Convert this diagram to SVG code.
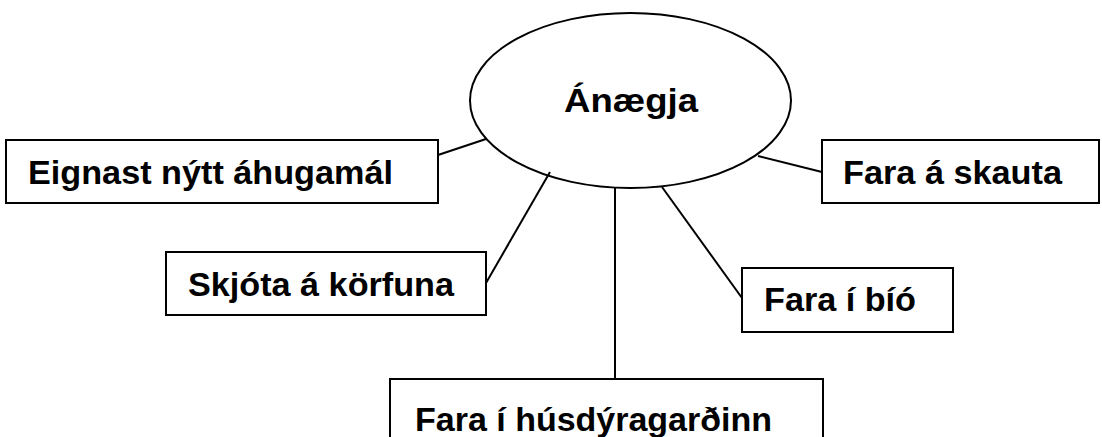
<svg xmlns="http://www.w3.org/2000/svg" width="1102" height="437" viewBox="0 0 1102 437">
<style>
.box{fill:#fff;stroke:#000;stroke-width:2}
.lbl{font-family:"Liberation Sans",Arial,sans-serif;font-weight:bold;font-size:34px;fill:#000}
.con line{stroke:#000;stroke-width:2}
</style>
<rect width="1102" height="437" fill="#fff"/>
<g id="connectors" class="con">
<line x1="438" y1="155" x2="486" y2="139"/>
<line x1="758" y1="156" x2="822" y2="172"/>
<line x1="486" y1="283" x2="550" y2="172"/>
<line x1="615" y1="187" x2="615" y2="379"/>
<line x1="662" y1="187" x2="742" y2="298"/>
</g>
<g id="n-anaegja">
<ellipse cx="630.5" cy="100.5" rx="160.5" ry="87.5" fill="none" stroke="#000" stroke-width="2"/>
<text class="lbl" x="564" y="112" font-size="36" textLength="134" lengthAdjust="spacingAndGlyphs">Ánægja</text>
</g>
<g id="n-eignast">
<rect class="box" x="6" y="140" width="432" height="63"/>
<text class="lbl" x="28" y="184" textLength="365" lengthAdjust="spacingAndGlyphs">Eignast nýtt áhugamál</text>
</g>
<g id="n-skauta">
<rect class="box" x="822" y="140" width="277" height="63"/>
<text class="lbl" x="843" y="184" textLength="219" lengthAdjust="spacingAndGlyphs">Fara á skauta</text>
</g>
<g id="n-korfuna">
<rect class="box" x="166" y="252" width="320" height="63"/>
<text class="lbl" x="188" y="296" textLength="266" lengthAdjust="spacingAndGlyphs">Skjóta á körfuna</text>
</g>
<g id="n-bio">
<rect class="box" x="742" y="268" width="211" height="64"/>
<text class="lbl" x="764" y="311" textLength="152" lengthAdjust="spacingAndGlyphs">Fara í bíó</text>
</g>
<g id="n-husdyragardinn">
<rect class="box" x="390" y="379" width="433" height="80"/>
<text class="lbl" x="415" y="431" textLength="357" lengthAdjust="spacingAndGlyphs">Fara í húsdýragarðinn</text>
</g>
</svg>
